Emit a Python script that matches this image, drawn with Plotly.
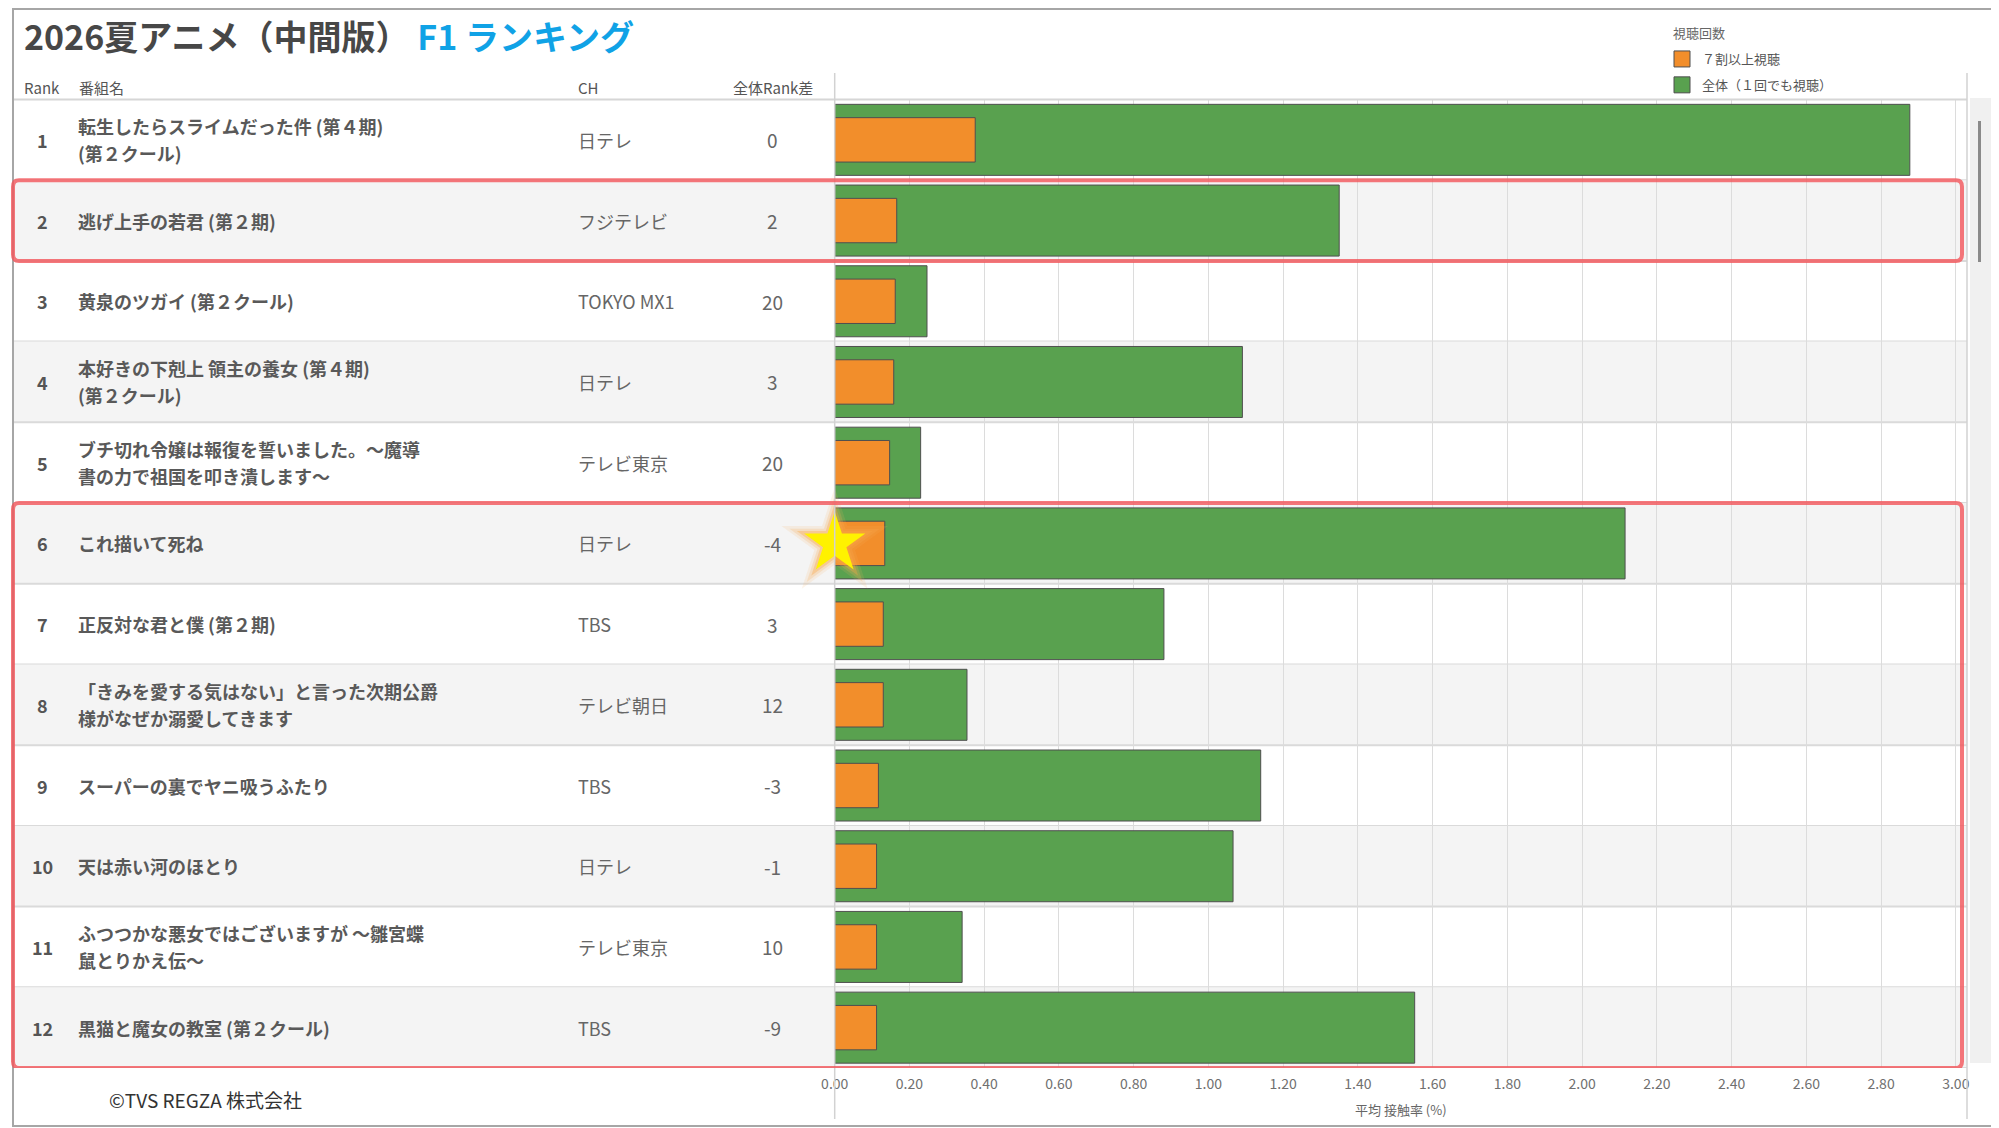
import plotly.graph_objects as go

W, H = 1999, 1128
FONT = "Noto Sans CJK JP"

ranks = list(range(1, 13))
titles = [
    "転生したらスライムだった件 (第４期)\n(第２クール)",
    "逃げ上手の若君 (第２期)",
    "黄泉のツガイ (第２クール)",
    "本好きの下剋上 領主の養女 (第４期)\n(第２クール)",
    "ブチ切れ令嬢は報復を誓いました。～魔導\n書の力で祖国を叩き潰します～",
    "これ描いて死ね",
    "正反対な君と僕 (第２期)",
    "「きみを愛する気はない」と言った次期公爵\n様がなぜか溺愛してきます",
    "スーパーの裏でヤニ吸うふたり",
    "天は赤い河のほとり",
    "ふつつかな悪女ではございますが ～雛宮蝶\n鼠とりかえ伝～",
    "黒猫と魔女の教室 (第２クール)",
]
channels = ["日テレ", "フジテレビ", "TOKYO MX1", "日テレ", "テレビ東京", "日テレ",
            "TBS", "テレビ朝日", "TBS", "日テレ", "テレビ東京", "TBS"]
rank_diff = [0, 2, 20, 3, 20, -4, 3, 12, -3, -1, 10, -9]
reach_all = [2.877, 1.350, 0.247, 1.091, 0.230, 2.115, 0.881, 0.354, 1.140, 1.066, 0.341, 1.552]
reach_70 = [0.376, 0.166, 0.162, 0.158, 0.147, 0.134, 0.130, 0.130, 0.117, 0.112, 0.112, 0.112]
series_names = ["７割以上視聴", "全体（１回でも視聴）"]
series_colors = ["#F28E2B", "#59A14F"]
highlight_groups = [(2, 2), (6, 12)]
star_ranks = [6]

# pixel layout of the dashboard (page coords; the page body adds an 8px margin)
PAGE_MARGIN = 8
LEFT, RIGHT = 13, 1967
X0, X1 = 834.7, 1967
TOP, BOTTOM = 99.5, 1068
ROW_H = (BOTTOM - TOP) / len(ranks)
LINE_GAP = 27 / ROW_H  # spacing of wrapped title lines, in row units


def px(x):
    return (x - PAGE_MARGIN) / W


def py(y):
    return 1 - (y - PAGE_MARGIN) / H


def rounded_box(x0, x1, y0, y1, rx, ry):
    return (f"M {x0 + rx},{y0} L {x1 - rx},{y0} Q {x1},{y0} {x1},{y0 + ry} "
            f"L {x1},{y1 - ry} Q {x1},{y1} {x1 - rx},{y1} "
            f"L {x0 + rx},{y1} Q {x0},{y1} {x0},{y1 - ry} "
            f"L {x0},{y0 + ry} Q {x0},{y0} {x0 + rx},{y0} Z")


fig = go.Figure()

fig.add_trace(go.Bar(
    y=ranks, x=reach_all, orientation="h", width=0.88, name=series_names[1],
    showlegend=False,
    marker=dict(color=series_colors[1], line=dict(color="#4f4f4f", width=1)),
))
fig.add_trace(go.Bar(
    y=ranks, x=reach_70, orientation="h", width=0.55, name=series_names[0],
    showlegend=False,
    marker=dict(color=series_colors[0], line=dict(color="#4f4f4f", width=1)),
))

# legend entries with larger square swatches
for i, (name, color) in enumerate(zip(series_names, series_colors)):
    fig.add_trace(go.Scatter(
        x=[None], y=[None], mode="markers", name=name, legendgroup=name, legendrank=i + 1,
        marker=dict(symbol="square", size=16, color=color, line=dict(color="#4f4f4f", width=1)),
    ))

star_x = [0 for _ in star_ranks]
for size, color in [(80, "rgba(248,180,100,0.14)"), (68, "rgba(248,172,85,0.22)"),
                    (57, "rgba(248,165,70,0.35)"), (46, "#FFF200")]:
    fig.add_trace(go.Scatter(
        x=star_x, y=star_ranks, mode="markers", showlegend=False, cliponaxis=False,
        hoverinfo="skip",
        marker=dict(symbol="star", size=size, color=color, line=dict(width=0)),
    ))

shapes = []
annotations = []

# row backgrounds and separators
for r in ranks:
    if r % 2 == 0:
        shapes.append(dict(type="rect", xref="paper", yref="y", layer="below",
                           x0=px(LEFT), x1=px(RIGHT), y0=r - 0.5, y1=r + 0.5,
                           fillcolor="#f4f4f4", line=dict(width=0)))
    shapes.append(dict(type="line", xref="paper", yref="y", layer="below",
                       x0=px(LEFT), x1=px(RIGHT), y0=r + 0.5, y1=r + 0.5,
                       line=dict(color="#dadada", width=2)))

# header line, axis frame lines
shapes.append(dict(type="line", xref="paper", yref="paper", x0=px(LEFT), x1=px(RIGHT),
                   y0=py(TOP), y1=py(TOP), line=dict(color="#d6d6d6", width=2)))
for xx in (X0, X1):
    shapes.append(dict(type="line", xref="paper", yref="paper", x0=px(xx), x1=px(xx),
                       y0=py(73), y1=py(1119), line=dict(color="#d2d2d2", width=1.5)))

# scrollbar
shapes.append(dict(type="rect", xref="paper", yref="paper", x0=px(1970), x1=px(1991),
                   y0=py(98), y1=py(1063), fillcolor="#f0f0f0", line=dict(width=0)))
shapes.append(dict(type="line", xref="paper", yref="paper", x0=px(1979.5), x1=px(1979.5),
                   y0=py(121), y1=py(262), line=dict(color="#8a8a8a", width=3)))

# outer frame
shapes.append(dict(type="rect", xref="paper", yref="paper", x0=px(13), x1=px(1996),
                   y0=py(1126), y1=py(9), line=dict(color="#a6a6a6", width=2)))

# red highlight boxes
for first, last in highlight_groups:
    shapes.append(dict(type="path", xref="paper", yref="y",
                       path=rounded_box(px(LEFT), px(1962), first - 0.5, last + 0.5,
                                        6 / W, 0.08),
                       line=dict(color="rgba(242,85,90,0.8)", width=4)))

# title
annotations.append(dict(
    xref="paper", yref="paper", x=px(22), y=py(36), xanchor="left", yanchor="middle",
    showarrow=False,
    text="<b>2026夏アニメ（中間版） <span style='color:#10A2E6'>F1 ランキング</span></b>",
    font=dict(size=34, color="#474747", family=FONT),
))

# table header
for text, xx, anchor in [("Rank", 22, "left"), ("番組名", 77, "left"),
                         ("CH", 576, "left"), ("全体Rank差", 773, "center")]:
    annotations.append(dict(xref="paper", yref="paper", x=px(xx), y=py(87),
                            xanchor=anchor, yanchor="middle", showarrow=False, text=text,
                            font=dict(size=15, color="#555555", family=FONT)))

# table rows
for r, t, ch, d in zip(ranks, titles, channels, rank_diff):
    annotations.append(dict(xref="paper", yref="y", x=px(42), y=r, xanchor="center",
                            yanchor="middle", showarrow=False, text=f"<b>{r}</b>",
                            font=dict(size=18, color="#555555", family=FONT)))
    lines = t.split("\n")
    for i, line in enumerate(lines):
        annotations.append(dict(xref="paper", yref="y", x=px(76),
                                y=r + (i - (len(lines) - 1) / 2) * LINE_GAP,
                                xanchor="left", yanchor="middle", showarrow=False,
                                text=f"<b>{line}</b>",
                                font=dict(size=18, color="#595959", family=FONT)))
    annotations.append(dict(xref="paper", yref="y", x=px(576), y=r, xanchor="left",
                            yanchor="middle", showarrow=False, text=ch,
                            font=dict(size=18, color="#666666", family=FONT)))
    annotations.append(dict(xref="paper", yref="y", x=px(772), y=r, xanchor="center",
                            yanchor="middle", showarrow=False, text=str(d),
                            font=dict(size=19, color="#666666", family=FONT)))

# legend title, axis title, copyright
annotations.append(dict(xref="paper", yref="paper", x=px(1671), y=py(32), xanchor="left",
                        yanchor="middle", showarrow=False, text="視聴回数",
                        font=dict(size=13, color="#666666", family=FONT)))
annotations.append(dict(xref="paper", yref="paper", x=px((X0 + X1) / 2), y=py(1109),
                        xanchor="center", yanchor="middle", showarrow=False,
                        text="平均 接触率 (%)",
                        font=dict(size=13, color="#666666", family=FONT)))
annotations.append(dict(xref="paper", yref="paper", x=px(107), y=py(1099), xanchor="left",
                        yanchor="middle", showarrow=False, text="©TVS REGZA 株式会社",
                        font=dict(size=19, color="#333333", family=FONT)))

fig.update_layout(
    width=W, height=H,
    margin=dict(l=0, r=0, t=0, b=0, autoexpand=False),
    paper_bgcolor="white",
    plot_bgcolor="rgba(0,0,0,0)",
    barmode="overlay",
    font=dict(family=FONT, color="#555555"),
    xaxis=dict(
        domain=[px(X0), px(X1)], range=[0, 3.03], tick0=0, dtick=0.2, tickformat=".2f",
        showgrid=True, gridcolor="#dcdcdc", gridwidth=1, zeroline=False, showline=False,
        ticks="", tickfont=dict(size=14, color="#707070", family=FONT),
        ticklabelstandoff=6, fixedrange=True, automargin=False,
    ),
    yaxis=dict(domain=[py(BOTTOM), py(TOP)], range=[12.5, 0.5], visible=False,
               showgrid=False, fixedrange=True, automargin=False),
    legend=dict(x=px(1662), y=py(44), xanchor="left", yanchor="top",
                bgcolor="rgba(0,0,0,0)", tracegroupgap=6, itemclick=False,
                font=dict(size=13, color="#555555", family=FONT)),
    shapes=shapes,
    annotations=annotations,
)

fig.write_html("out.html")
